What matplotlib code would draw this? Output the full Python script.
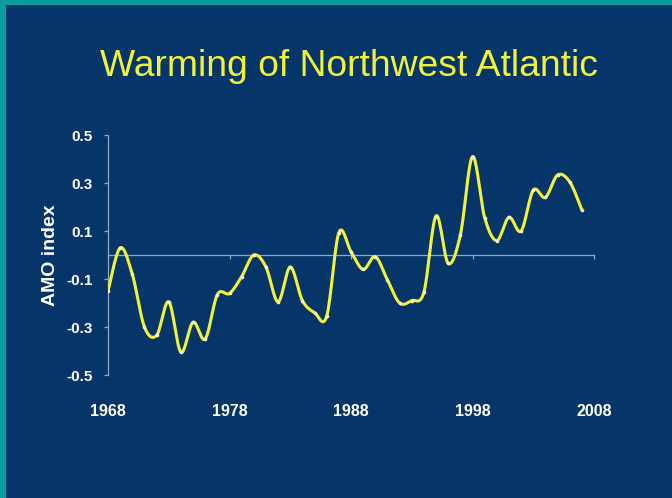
import numpy as np
import matplotlib.pyplot as plt
from matplotlib.patches import Rectangle

years = list(range(1968, 2008))
amo = [-0.15, 0.03, -0.08, -0.30, -0.335, -0.195, -0.405, -0.28, -0.35, -0.165,
       -0.16, -0.09, 0.0, -0.05, -0.195, -0.05, -0.19, -0.24, -0.255, 0.093,
       0.014, -0.06, -0.007, -0.104, -0.2, -0.19, -0.155, 0.163, -0.035, 0.083,
       0.41, 0.156, 0.06, 0.157, 0.10, 0.27, 0.24, 0.333, 0.305, 0.188]
x_ticks = [1968, 1978, 1988, 1998, 2008]
y_ticks = [-0.5, -0.3, -0.1, 0.1, 0.3, 0.5]

TEAL = "#0b9b9c"
NAVY = "#06356a"
YELLOW = "#f2f23a"
AXIS = "#93a6c2"


def smooth(xs, ys, n=16):
    # bezier segments like a spreadsheet "smoothed line"
    p = np.column_stack([xs, ys]).astype(float)
    pts = [p[0]]
    t = np.linspace(0, 1, n + 1)[1:, None]
    for i in range(len(p) - 1):
        p0 = p[i - 1] if i > 0 else p[i]
        p3 = p[i + 2] if i + 2 < len(p) else p[i + 1]
        c1 = p[i] + (p[i + 1] - p0) / 6
        c2 = p[i + 1] - (p3 - p[i]) / 6
        seg = ((1 - t) ** 3 * p[i] + 3 * (1 - t) ** 2 * t * c1
               + 3 * (1 - t) * t ** 2 * c2 + t ** 3 * p[i + 1])
        pts.extend(seg)
    pts = np.array(pts)
    return pts[:, 0], pts[:, 1]


plt.rcParams['font.family'] = ['Liberation Sans', 'DejaVu Sans']

fig = plt.figure(figsize=(6.72, 4.98), dpi=100)
fig.patch.set_facecolor(NAVY)
# teal frame on the left and top
fig.patches.append(Rectangle((0, 0), 6 / 672, 1, transform=fig.transFigure,
                             facecolor=TEAL, edgecolor='none', zorder=-10))
fig.patches.append(Rectangle((0, 1 - 5 / 498), 1, 5 / 498, transform=fig.transFigure,
                             facecolor=TEAL, edgecolor='none', zorder=-10))

fig.text(0.519, 0.866, "Warming of Northwest Atlantic", color=YELLOW,
         fontsize=26.8, ha='center', va='center')

ax = fig.add_axes([108 / 672, 123 / 498, 486 / 672, 240 / 498])
ax.set_facecolor('none')

sx, sy = smooth(years, amo)
ax.plot(sx, sy, color=YELLOW, lw=2.2, solid_capstyle='round', zorder=3)
ax.plot(years, amo, 'o', color="#f8f8c0", ms=2.6, mew=0, zorder=4)

ax.set_xlim(1968, 2008)
ax.set_ylim(-0.5, 0.5)
ax.set_xticks(x_ticks)
ax.set_yticks(y_ticks)
ax.set_yticklabels([f"{v:.1f}" for v in y_ticks])

for s in ['top', 'right']:
    ax.spines[s].set_visible(False)
ax.spines['bottom'].set_position(('data', 0))
ax.spines['bottom'].set_color(AXIS)
ax.spines['left'].set_color(AXIS)
ax.spines['bottom'].set_linewidth(0.9)
ax.spines['left'].set_linewidth(0.9)

ax.tick_params(axis='y', direction='out', length=3, width=0.9, color=AXIS,
               labelcolor='white', labelsize=11, pad=8)
ax.tick_params(axis='x', direction='out', length=3, width=0.9, color=AXIS,
               labelcolor='white', labelsize=11.5, pad=104)
for lab in ax.get_xticklabels() + ax.get_yticklabels():
    lab.set_fontweight('bold')

ax.set_ylabel("AMO index", color='white', fontsize=14, fontweight='bold', labelpad=5)

fig.savefig("out.png", dpi=100, facecolor=fig.get_facecolor())
